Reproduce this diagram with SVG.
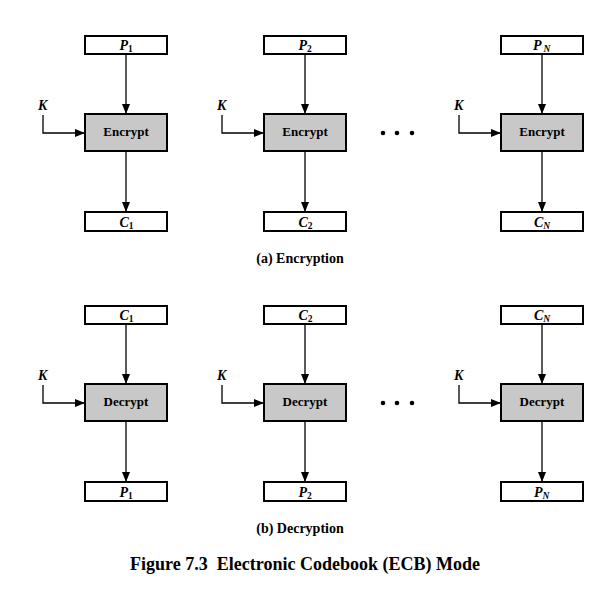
<svg xmlns="http://www.w3.org/2000/svg" width="612" height="597" viewBox="0 0 612 597">
<style>
.io{fill:#fff;stroke:#000;stroke-width:2}
.op{fill:#c8c8c8;stroke:#000;stroke-width:2}
.ln{fill:none;stroke:#000;stroke-width:1.3}
.t{font-family:"Liberation Serif",serif;font-weight:bold;text-anchor:middle;fill:#000}
.v{font-family:"Liberation Serif",serif;font-weight:bold;font-style:italic;font-size:14px;fill:#000}
.s{font-style:normal;font-size:9.5px}
.sn{font-size:9.5px}
.lbl{font-size:13px}
.cap{font-size:14px}
.fig{font-size:18px}
</style>
<defs>
<marker id="ah" markerWidth="10" markerHeight="8" refX="9" refY="4" orient="auto" markerUnits="userSpaceOnUse">
<path d="M0,0 L10,4 L0,8 Z" fill="#000"/>
</marker>
</defs>
<g id="connectors">
<path class="ln" d="M126,54 V113" marker-end="url(#ah)"/>
<path class="ln" d="M126,151 V211" marker-end="url(#ah)"/>
<path class="ln" d="M43,115 V133 H84" marker-end="url(#ah)"/>
<path class="ln" d="M305,54 V113" marker-end="url(#ah)"/>
<path class="ln" d="M305,151 V211" marker-end="url(#ah)"/>
<path class="ln" d="M222,115 V133 H263" marker-end="url(#ah)"/>
<path class="ln" d="M542,54 V113" marker-end="url(#ah)"/>
<path class="ln" d="M542,151 V211" marker-end="url(#ah)"/>
<path class="ln" d="M459,115 V133 H500" marker-end="url(#ah)"/>
<path class="ln" d="M126,324 V383" marker-end="url(#ah)"/>
<path class="ln" d="M126,421 V481" marker-end="url(#ah)"/>
<path class="ln" d="M43,385 V403 H84" marker-end="url(#ah)"/>
<path class="ln" d="M305,324 V383" marker-end="url(#ah)"/>
<path class="ln" d="M305,421 V481" marker-end="url(#ah)"/>
<path class="ln" d="M222,385 V403 H263" marker-end="url(#ah)"/>
<path class="ln" d="M542,324 V383" marker-end="url(#ah)"/>
<path class="ln" d="M542,421 V481" marker-end="url(#ah)"/>
<path class="ln" d="M459,385 V403 H500" marker-end="url(#ah)"/>
</g>
<g id="enc1">
<rect class="io" x="85" y="36" width="82" height="18"/><text class="v" x="119.5" y="50">P<tspan class="s" dy="2">1</tspan></text>
<rect class="op" x="85" y="114" width="82" height="37"/><text class="t lbl" x="126" y="135.5">Encrypt</text>
<rect class="io" x="85" y="212" width="82" height="19"/><text class="v" x="119.5" y="226.5">C<tspan class="s" dy="2">1</tspan></text>
<text class="v" x="38" y="110">K</text>
</g>
<g id="enc2">
<rect class="io" x="264" y="36" width="82" height="18"/><text class="v" x="298.5" y="50">P<tspan class="s" dy="2">2</tspan></text>
<rect class="op" x="264" y="114" width="82" height="37"/><text class="t lbl" x="305" y="135.5">Encrypt</text>
<rect class="io" x="264" y="212" width="82" height="19"/><text class="v" x="298.5" y="226.5">C<tspan class="s" dy="2">2</tspan></text>
<text class="v" x="217" y="110">K</text>
</g>
<g id="encN">
<rect class="io" x="501" y="36" width="82" height="18"/><text class="v" x="533" y="50">P<tspan class="sn" dx="2" dy="2">N</tspan></text>
<rect class="op" x="501" y="114" width="82" height="37"/><text class="t lbl" x="542" y="135.5">Encrypt</text>
<rect class="io" x="501" y="212" width="82" height="19"/><text class="v" x="534" y="226.5">C<tspan class="sn" dy="2">N</tspan></text>
<text class="v" x="454" y="110">K</text>
</g>
<g id="dots1"><circle cx="383" cy="133" r="2.3"/><circle cx="397" cy="133" r="2.3"/><circle cx="412" cy="133" r="2.3"/></g>
<text class="t cap" x="300" y="263">(a) Encryption</text>
<g id="dec1">
<rect class="io" x="85" y="306" width="82" height="18"/><text class="v" x="119.5" y="320">C<tspan class="s" dy="2">1</tspan></text>
<rect class="op" x="85" y="384" width="82" height="37"/><text class="t lbl" x="126" y="405.5">Decrypt</text>
<rect class="io" x="85" y="482" width="82" height="19"/><text class="v" x="119.5" y="496.5">P<tspan class="s" dy="2">1</tspan></text>
<text class="v" x="38" y="380">K</text>
</g>
<g id="dec2">
<rect class="io" x="264" y="306" width="82" height="18"/><text class="v" x="298.5" y="320">C<tspan class="s" dy="2">2</tspan></text>
<rect class="op" x="264" y="384" width="82" height="37"/><text class="t lbl" x="305" y="405.5">Decrypt</text>
<rect class="io" x="264" y="482" width="82" height="19"/><text class="v" x="298.5" y="496.5">P<tspan class="s" dy="2">2</tspan></text>
<text class="v" x="217" y="380">K</text>
</g>
<g id="decN">
<rect class="io" x="501" y="306" width="82" height="18"/><text class="v" x="534" y="320">C<tspan class="sn" dy="2">N</tspan></text>
<rect class="op" x="501" y="384" width="82" height="37"/><text class="t lbl" x="542" y="405.5">Decrypt</text>
<rect class="io" x="501" y="482" width="82" height="19"/><text class="v" x="534" y="496.5">P<tspan class="sn" dy="2">N</tspan></text>
<text class="v" x="454" y="380">K</text>
</g>
<g id="dots2"><circle cx="383" cy="403" r="2.3"/><circle cx="397" cy="403" r="2.3"/><circle cx="412" cy="403" r="2.3"/></g>
<text class="t cap" x="300" y="533">(b) Decryption</text>
<text class="t fig" x="305" y="570">Figure 7.3&#160; Electronic Codebook (ECB) Mode</text>
</svg>
